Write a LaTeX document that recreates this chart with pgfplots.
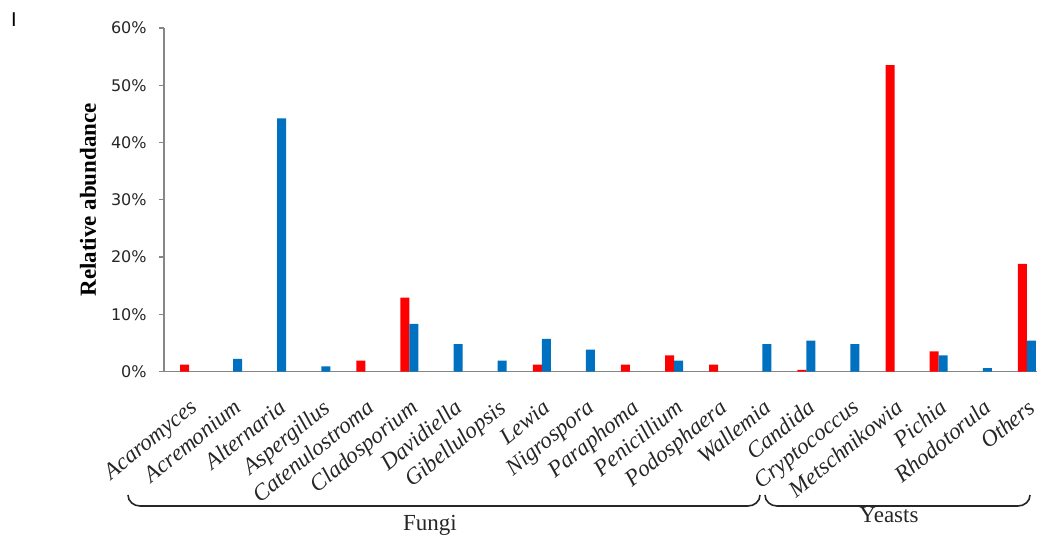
\documentclass[border=0pt]{standalone}
\usepackage{pgfplots}
\pgfplotsset{compat=1.18}
\usepackage{fontspec}
\setmainfont{Liberation Serif}
\newfontfamily\tickfont{DejaVu Sans}
\newfontfamily\labelsans{Liberation Sans}
\definecolor{myred}{RGB}{255,0,0}
\definecolor{myblue}{RGB}{0,112,192}
\definecolor{axgray}{RGB}{134,134,134}
\begin{document}
\begin{tikzpicture}
\begin{axis}[
  at={(0,0)}, anchor=south west,
  scale only axis, width=436.5pt, height=171.75pt,
  xmin=-0.567, xmax=19.23, ymin=0, ymax=60,
  axis x line*=bottom, axis y line*=left,
  axis line style={-, draw=axgray, line width=0.7pt},
  xtick={0,...,19},
  xticklabels={Acaromyces,Acremonium,Alternaria,Aspergillus,Catenulostroma,Cladosporium,Davidiella,Gibellulopsis,Lewia,Nigrospora,Paraphoma,Penicillium,Podosphaera,Wallemia,Candida,Cryptococcus,Metschnikowia,Pichia,Rhodotorula,Others},
  xtick style={draw=none},
  xticklabel style={font=\itshape\fontsize{11.5}{12}\selectfont, rotate=39, anchor=north east, inner sep=0pt, text=black!85},
  xticklabel shift=10.5pt,
  ytick={0,10,...,60},
  yticklabels={0\%,10\%,20\%,30\%,40\%,50\%,60\%},
  ytick style={draw=axgray, line width=0.6pt},
  tick align=outside, major tick length=2.5pt,
  yticklabel style={font=\tickfont\fontsize{8}{9}\selectfont, inner sep=0pt, text=black!85},
  yticklabel shift=6pt,
  ylabel={Relative abundance},
  ylabel style={font=\bfseries\fontsize{11.5}{12}\selectfont, at={(axis description cs:-0.087,0.5)}, anchor=center, rotate=0},
  clip=false,
]
\addplot[ybar, fill=myred, draw=none, bar width=4.5pt, bar shift=-2.25pt] coordinates {
(0,1.2) (4,1.9) (5,12.9) (8,1.2) (10,1.2) (11,2.8) (12,1.2) (14,0.3) (16,53.5) (17,3.5) (19,18.8)};
\addplot[ybar, fill=myblue, draw=none, bar width=4.5pt, bar shift=2.25pt] coordinates {
(1,2.2) (2,44.2) (3,0.9) (5,8.3) (6,4.8) (7,1.9) (8,5.7) (9,3.8) (11,1.9) (13,4.8) (14,5.4) (15,4.8) (17,2.8) (18,0.6) (19,5.4)};
\end{axis}
% braces
\draw[line width=0.8pt, black!85] (-18pt,-61.75pt) to[out=-90,in=180] (-12pt,-67.25pt) -- (292pt,-67.25pt) to[out=0,in=-90] (298pt,-61.75pt);
\draw[line width=0.8pt, black!85] (300.5pt,-61.75pt) to[out=-90,in=180] (306.5pt,-67.25pt) -- (427pt,-67.25pt) to[out=0,in=-90] (433pt,-61.75pt);
\node[font=\fontsize{11.5}{12}\selectfont, text=black!85] at (133pt,-76.75pt) {Fungi};
\node[font=\fontsize{11.5}{12}\selectfont, text=black!85] at (362.5pt,-72pt) {Yeasts};
\node[font=\labelsans\fontsize{10}{11}\selectfont] at (-75pt,175.75pt) {I};
\pgfresetboundingbox
\path (-82pt,-84.75pt) rectangle (440.5pt,185.75pt);
\end{tikzpicture}
\end{document}
